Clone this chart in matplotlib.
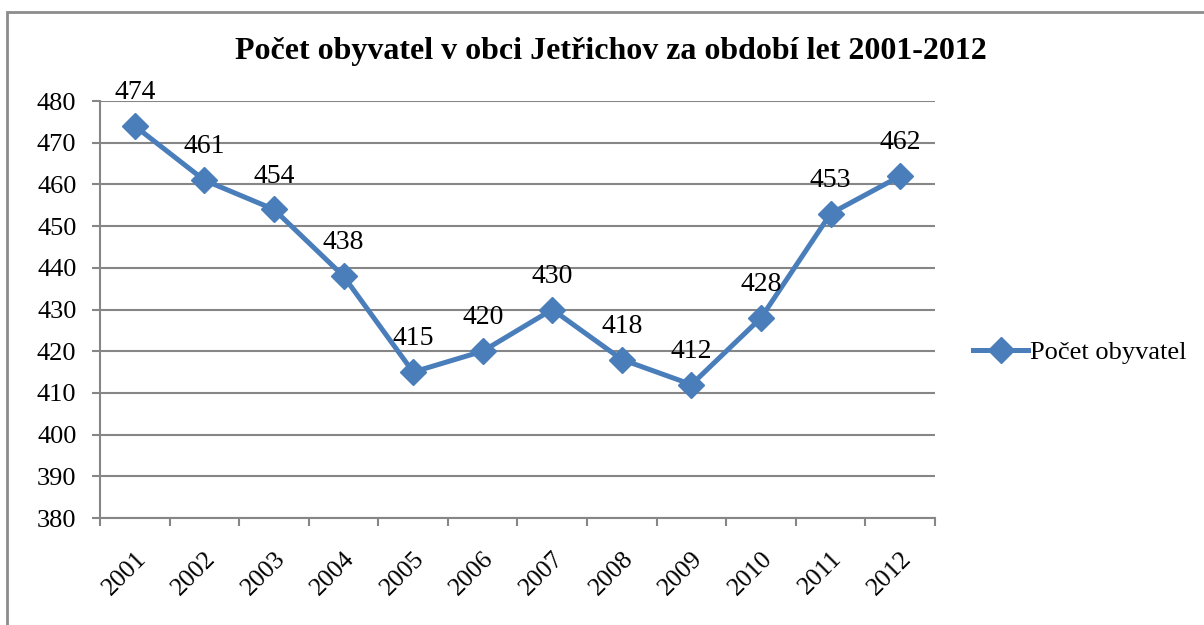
import numpy as np
import matplotlib.pyplot as plt
from matplotlib.patches import Rectangle

years = ["2001", "2002", "2003", "2004", "2005", "2006",
         "2007", "2008", "2009", "2010", "2011", "2012"]
population = [474, 461, 454, 438, 415, 420, 430, 418, 412, 428, 453, 462]
series_name = "Počet obyvatel"
title = "Počet obyvatel v obci Jetřichov za období let 2001-2012"

plt.rcParams['font.family'] = ['Liberation Serif', 'DejaVu Serif']

fig = plt.figure(figsize=(12.04, 6.25), dpi=100)
ax = fig.add_axes([100 / 1204, 1 - 518 / 625, 835 / 1204, 417 / 625])

grey = "#868686"
blue = "#4A7EBB"

x = np.arange(len(years))
line, = ax.plot(x, population, color=blue, lw=3.6, marker="D", ms=13,
                label=series_name, zorder=3)
for xi, v in zip(x, population):
    ax.annotate(str(v), (xi, v), xytext=(0, 24), textcoords="offset points",
                ha="center", va="center", fontsize=20)

ax.set_xlim(-0.5, len(years) - 0.5)
ax.set_ylim(380, 480)
ax.set_yticks(np.arange(380, 481, 10))
ax.set_xticks(x)
ax.set_xticklabels(years, rotation=45, ha="right", rotation_mode="anchor",
                   fontsize=18.5)
ax.set_xticks(np.arange(-0.5, len(years)), minor=True)
ax.tick_params(axis="x", which="major", length=0, pad=21)
ax.tick_params(axis="x", which="minor", length=6, width=1.5, color=grey)
ax.tick_params(axis="y", length=6, width=1.5, color=grey, labelsize=19, pad=11)
ax.grid(axis="y", color=grey, lw=1.5)
ax.set_axisbelow(True)
for s in ["top", "right"]:
    ax.spines[s].set_visible(False)
for s in ["left", "bottom"]:
    ax.spines[s].set_color(grey)
    ax.spines[s].set_linewidth(1.5)

fig.text(611 / 1204, 1 - 52 / 625, title, ha="center", va="center",
         fontsize=23, fontweight="bold")

fig.legend(handles=[line], loc="center left", bbox_to_anchor=(973 / 1204, 1 - 352 / 625),
           frameon=False, fontsize=19, handlelength=2.1, handletextpad=0.05,
           borderaxespad=0, borderpad=0)

fig.patches.append(Rectangle((7 / 1204, -0.1), 1.2, 1.1 - 12 / 625,
                             transform=fig.transFigure, fill=False,
                             edgecolor="#8c8c8c", lw=2))

fig.savefig("out.png", dpi=100)
